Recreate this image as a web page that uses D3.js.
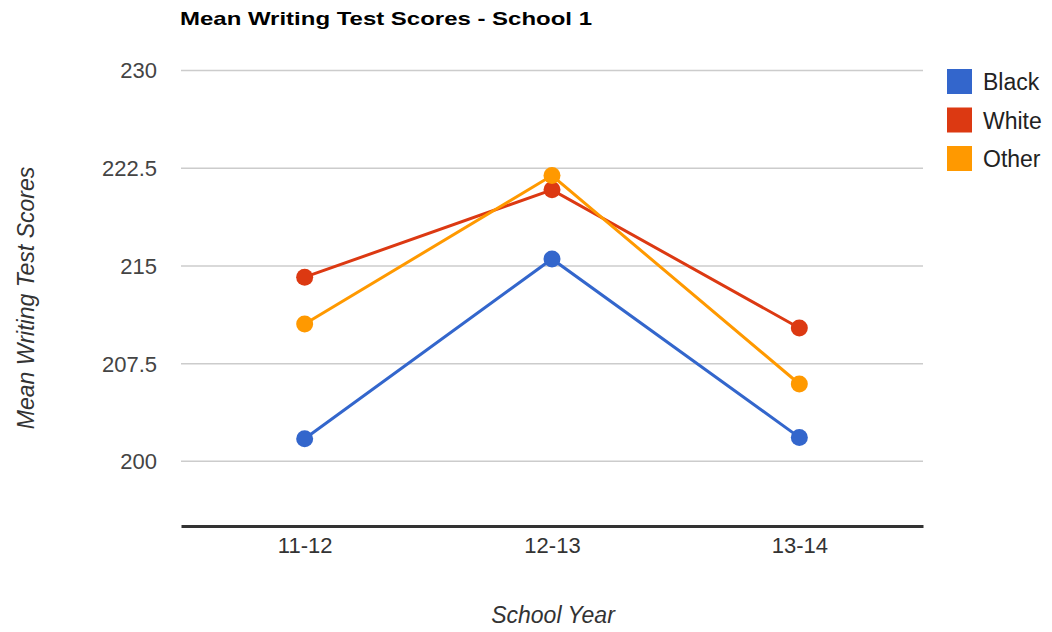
<!DOCTYPE html>
<html>
<head>
<meta charset="utf-8">
<script src="https://cdn.jsdelivr.net/npm/d3@7"></script>
<style>
  html, body { margin: 0; padding: 0; background: #fff; }
  svg { display: block; font-family: "Liberation Sans", Arial, sans-serif; }
</style>
</head>
<body>
<div id="chart"></div>
<script>
const years = ['11-12', '12-13', '13-14'];
const black = [201.7, 215.5, 201.8];
const white = [214.1, 220.8, 210.2];
const other = [210.5, 221.9, 205.9];
const yTicks = [200, 207.5, 215, 222.5, 230];

const series = [
  { name: 'Black', color: '#3366cc', values: black },
  { name: 'White', color: '#dc3912', values: white },
  { name: 'Other', color: '#ff9900', values: other }
];

const width = 1052;
const height = 632;
const margin = { top: 70, right: 129, bottom: 106, left: 181 };

const svg = d3
  .select('#chart')
  .append('svg')
  .attr('width', width)
  .attr('height', height);

const x = d3
  .scalePoint()
  .domain(years)
  .range([margin.left, width - margin.right])
  .padding(0.5);

const y = d3
  .scaleLinear()
  .domain([195, 230])
  .range([height - margin.bottom, margin.top]);

// title
svg
  .append('text')
  .attr('x', 180)
  .attr('y', 25)
  .attr('font-size', 19)
  .attr('font-weight', 'bold')
  .attr('fill', '#000')
  .attr('textLength', 412)
  .attr('lengthAdjust', 'spacingAndGlyphs')
  .text('Mean Writing Test Scores - School 1');

// y axis with gridlines
const yAxis = svg
  .append('g')
  .attr('transform', `translate(${margin.left},0)`)
  .call(
    d3.axisLeft(y)
      .tickValues(yTicks)
      .tickFormat(d3.format('~g'))
      .tickSize(-(width - margin.left - margin.right))
      .tickPadding(24)
  );
yAxis.select('.domain').remove();
yAxis.selectAll('line').attr('stroke', '#cccccc').attr('stroke-width', 1.5);
yAxis
  .selectAll('text')
  .attr('font-size', 22)
  .attr('fill', '#444')
  .attr('dy', '0.36em');

// x axis
const xAxis = svg
  .append('g')
  .attr('transform', `translate(0,${y(195)})`)
  .call(d3.axisBottom(x).tickSize(0).tickPadding(11));
xAxis.select('.domain').attr('stroke', '#333').attr('stroke-width', 3);
xAxis.selectAll('text').attr('font-size', 22).attr('fill', '#333');

// axis titles
svg
  .append('text')
  .attr('x', 553)
  .attr('y', 623)
  .attr('text-anchor', 'middle')
  .attr('font-size', 23)
  .attr('font-style', 'italic')
  .attr('fill', '#333')
  .text('School Year');

svg
  .append('text')
  .attr('transform', 'translate(34,298) rotate(-90)')
  .attr('text-anchor', 'middle')
  .attr('font-size', 23)
  .attr('font-style', 'italic')
  .attr('fill', '#333')
  .text('Mean Writing Test Scores');

// lines and points
const line = d3
  .line()
  .x((d, i) => x(years[i]))
  .y(d => y(d));

const groups = svg
  .append('g')
  .selectAll('g')
  .data(series)
  .enter()
  .append('g');

groups
  .append('path')
  .attr('d', d => line(d.values))
  .attr('fill', 'none')
  .attr('stroke', d => d.color)
  .attr('stroke-width', 3);

groups
  .selectAll('circle')
  .data(d => d.values.map((v, i) => ({ v, i, color: d.color })))
  .enter()
  .append('circle')
  .attr('cx', d => x(years[d.i]))
  .attr('cy', d => y(d.v))
  .attr('r', 8.5)
  .attr('fill', d => d.color);

// legend
const legend = svg
  .append('g')
  .selectAll('g')
  .data(series)
  .enter()
  .append('g')
  .attr('transform', (d, i) => `translate(947,${69 + i * 38.5})`);

legend
  .append('rect')
  .attr('width', 25)
  .attr('height', 25)
  .attr('fill', d => d.color);

legend
  .append('text')
  .attr('x', 36)
  .attr('y', 21)
  .attr('font-size', 23)
  .attr('fill', '#222')
  .text(d => d.name);
</script>
</body>
</html>
